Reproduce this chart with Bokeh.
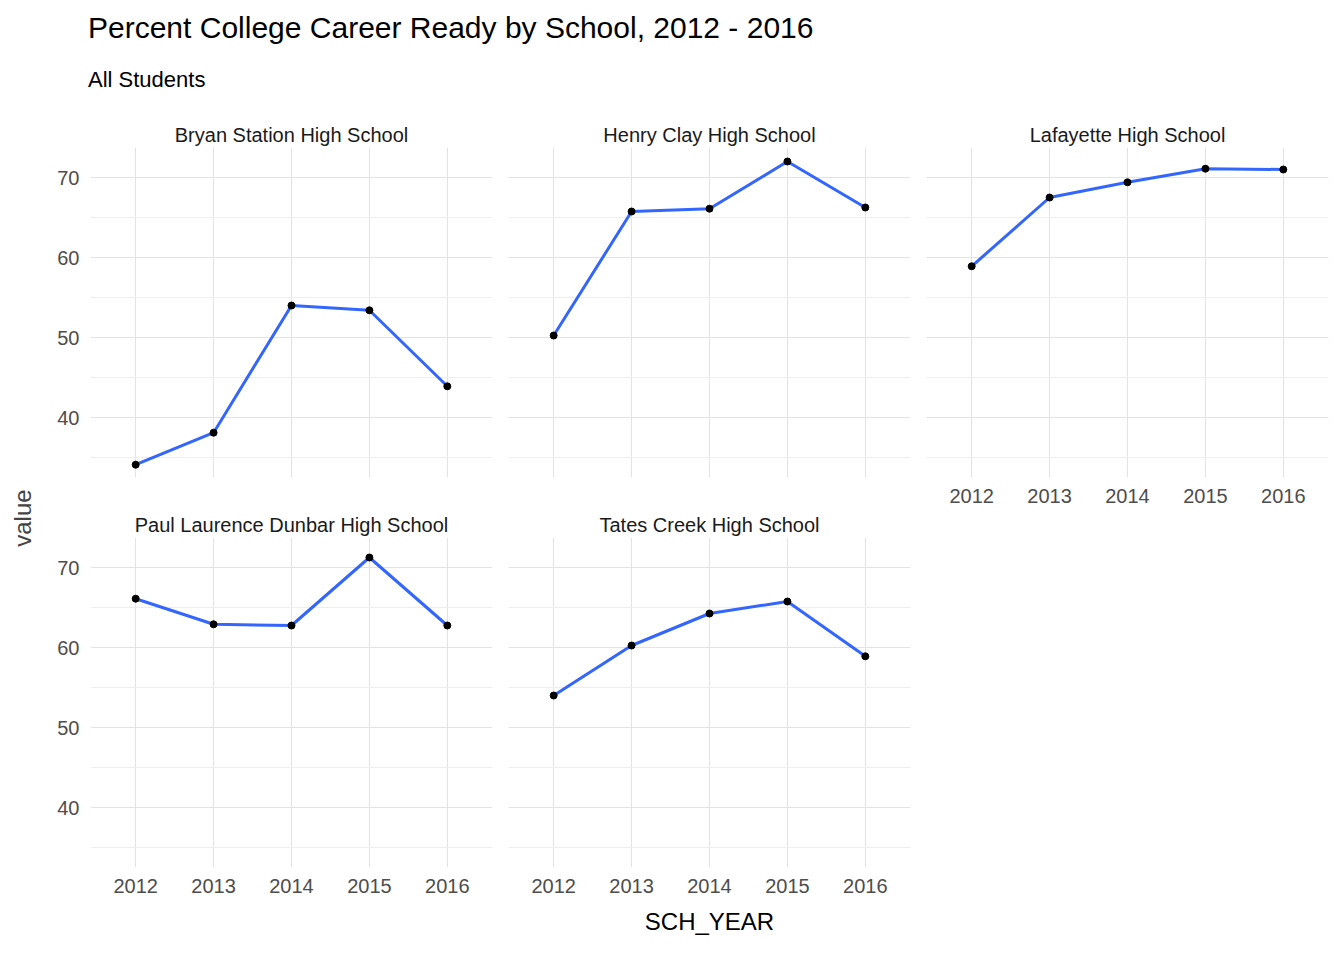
import math
from bokeh.plotting import figure
from bokeh.layouts import column, row
from bokeh.models import Div, Label, Range1d, SingleIntervalTicker, FixedTicker
from bokeh.embed import file_html
from bokeh.resources import INLINE

years = [2012, 2013, 2014, 2015, 2016]
schools = ["Bryan Station High School", "Henry Clay High School", "Lafayette High School",
           "Paul Laurence Dunbar High School", "Tates Creek High School"]
bryan = [34.1, 38.1, 54.0, 53.4, 43.9]
henry = [50.25, 65.75, 66.1, 72.0, 66.25]
lafayette = [58.9, 67.5, 69.4, 71.1, 71.0]
dunbar = [66.1, 62.9, 62.75, 71.25, 62.75]
tates = [54.0, 60.25, 64.25, 65.75, 58.9]
series = [bryan, henry, lafayette, dunbar, tates]

FONT = "Liberation Sans"

def panel(i, left, top_row, show_x, xlabel=None):
    w = (45 if left else 8) + 402 + 8
    h = (42 + 330 + 32) if top_row else (28 + 330 + 80)
    p = figure(width=w, height=h, output_backend="svg", toolbar_location=None,
               x_range=Range1d(2011.42, 2016.58), y_range=Range1d(32.5, 73.75),
               min_border_left=45 if left else 8, min_border_right=8,
               min_border_top=42 if top_row else 28,
               min_border_bottom=32 if top_row else 80,
               title=schools[i])
    p.title.align = "center"
    p.title.text_font = FONT
    p.title.text_font_size = "20px"
    p.title.text_font_style = "normal"
    p.title.text_color = "#1a1a1a"
    p.title.standoff = 4
    p.outline_line_color = None
    p.background_fill_color = "white"
    p.border_fill_color = "white"
    p.xaxis.ticker = FixedTicker(ticks=years)
    p.yaxis.ticker = SingleIntervalTicker(interval=10, num_minor_ticks=2)
    for ax in (p.xaxis, p.yaxis):
        ax.axis_line_color = None
        ax.major_tick_line_color = None
        ax.minor_tick_line_color = None
        ax.major_label_text_font = FONT
        ax.major_label_text_font_size = "20px"
        ax.major_label_text_color = "#4d4d4d"
    p.xaxis.visible = show_x
    p.yaxis.visible = left
    p.xgrid.grid_line_color = "#e3e3e3"
    p.ygrid.grid_line_color = "#e3e3e3"
    p.ygrid.minor_grid_line_color = "#eeeeee"
    if xlabel:
        p.xaxis.axis_label = xlabel
        p.xaxis.axis_label_text_font = FONT
        p.xaxis.axis_label_text_font_size = "24px"
        p.xaxis.axis_label_text_font_style = "normal"
        p.xaxis.axis_label_text_color = "black"
        p.xaxis.axis_label_standoff = 12
    p.line(years, series[i], line_color="#3366ff", line_width=3)
    p.scatter(years, series[i], size=7, color="black")
    return p

p1 = panel(0, True, True, False)
p2 = panel(1, False, True, False)
p3 = panel(2, False, True, True)
p4 = panel(3, True, False, True)
p5 = panel(4, False, False, True, "SCH_YEAR")

lab = figure(width=45, height=842, output_backend="svg", toolbar_location=None,
             x_range=Range1d(0, 1), y_range=Range1d(0, 1),
             min_border=0, outline_line_color=None)
lab.axis.visible = False
lab.grid.visible = False
lab.add_layout(Label(x=0.48, y=0.51, text="value", angle=math.pi / 2,
                     text_align="center", text_baseline="middle",
                     text_font=FONT, text_font_size="24px"))

title = Div(text='<div style="font-family:Liberation Sans;padding-left:83px">'
                 '<div style="font-size:30px;margin-top:2px">Percent College Career Ready by School, 2012 - 2016</div>'
                 '<div style="font-size:22px;margin-top:14px">All Students</div></div>',
            width=1328, height=95)

layout = column(title, row(lab, column(row(p1, p2, p3), row(p4, p5))))
open("out.html", "w").write(file_html(layout, INLINE))
